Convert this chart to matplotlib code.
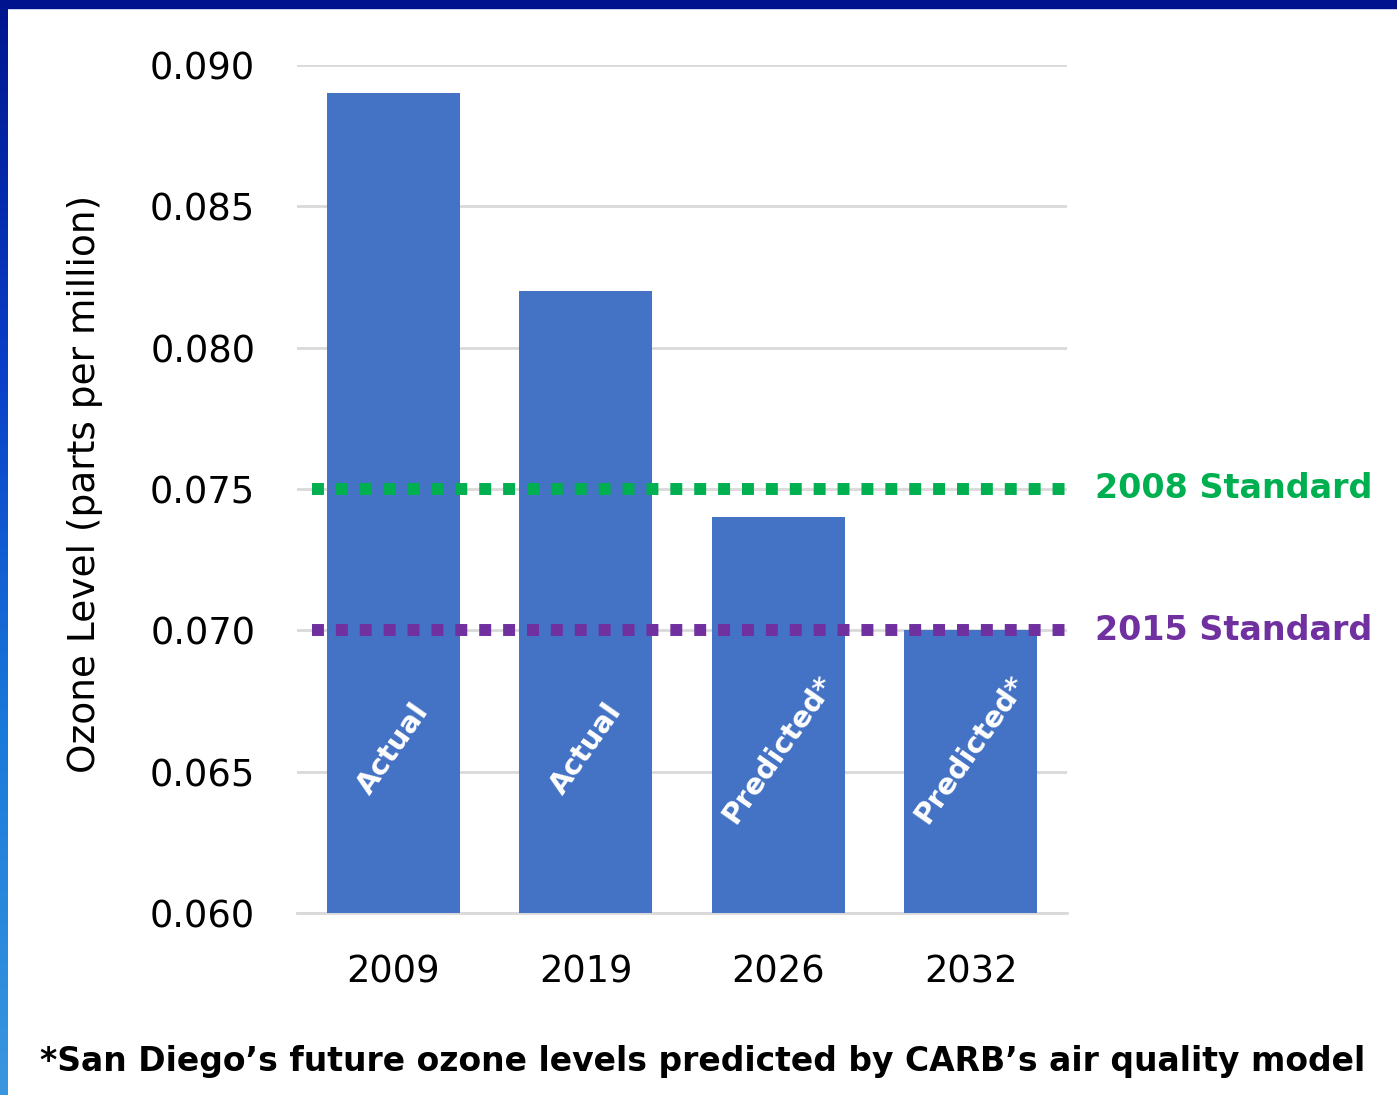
import matplotlib
matplotlib.use('Agg')
import matplotlib.pyplot as plt
import numpy as np
from matplotlib.patches import Rectangle

years = ['2009', '2019', '2026', '2032']
ozone = [0.089, 0.082, 0.074, 0.070]
bar_text = ['Actual', 'Actual', 'Predicted*', 'Predicted*']
std_names = ['2008 Standard', '2015 Standard']
std_values = [0.075, 0.070]
std_colors = ['#00B050', '#7030A0']
yticks = [0.060, 0.065, 0.070, 0.075, 0.080, 0.085, 0.090]

fig = plt.figure(figsize=(13.97, 10.95), dpi=100)
fig.patch.set_facecolor('white')

# frame: navy strip on top, blue gradient on the left
fig.patches.append(Rectangle((0, 1 - 8/1095), 1, 8/1095, transform=fig.transFigure,
                             color='#00138F', zorder=0))
gax = fig.add_axes([0, 0, 8/1397, 1 - 8/1095])
grad = np.linspace(0, 1, 256).reshape(-1, 1)
cmap = matplotlib.colors.LinearSegmentedColormap.from_list('edge', ['#00168F', '#0A3FC8', '#1A7ADA', '#3A96DE'])
gax.imshow(grad, aspect='auto', cmap=cmap, extent=[0, 1, 0, 1])
gax.axis('off')

ax = fig.add_axes([297/1397, 1 - 913/1095, 770/1397, 848/1095])
x = np.arange(len(years))
ax.bar(x, [v - 0.060 for v in ozone], bottom=0.060, width=0.69, color='#4472C4', zorder=2)
ax.set_xlim(-0.5, 3.5)
ax.set_ylim(0.060, 0.090)
ax.set_yticks(yticks)
ax.set_yticklabels(['%.3f' % t for t in yticks])
ax.set_xticks(x)
ax.set_xticklabels(years)
ax.tick_params(axis='y', length=0, pad=30, labelsize=26.5)
ax.tick_params(axis='x', length=0, pad=29, labelsize=26.5)
for s in ax.spines.values():
    s.set_visible(False)
ax.yaxis.grid(True, color='#D9D9D9', linewidth=2, zorder=1)
ax.axhline(0.060, color='#D9D9D9', linewidth=2, zorder=1, clip_on=False)
ax.set_axisbelow(True)

for xi, t in zip(x, bar_text):
    ax.text(xi, 0.0658, t, rotation=55, color='white', fontsize=21, fontweight='bold',
            ha='center', va='center', rotation_mode='anchor', zorder=4)

for name, val, col in zip(std_names, std_values, std_colors):
    ax.axhline(val, xmin=15/770, xmax=1.0, color=col, linewidth=8.6,
               linestyle=(0, (1, 1)), dash_capstyle='butt', zorder=3)
    ax.text((1095 - 297)/770, val, name, transform=ax.get_yaxis_transform(),
            color=col, fontsize=24, fontweight='bold', ha='left', va='center')

fig.text(85/1397, 1 - 484/1095, 'Ozone Level (parts per million)', rotation=90,
         fontsize=27, ha='center', va='center')
fig.text(40/1397, 1 - 1062/1095,
         '*San Diego\u2019s future ozone levels predicted by CARB\u2019s air quality model',
         fontsize=23.8, fontweight='bold', ha='left', va='center')

fig.savefig('out.png', dpi=100)
